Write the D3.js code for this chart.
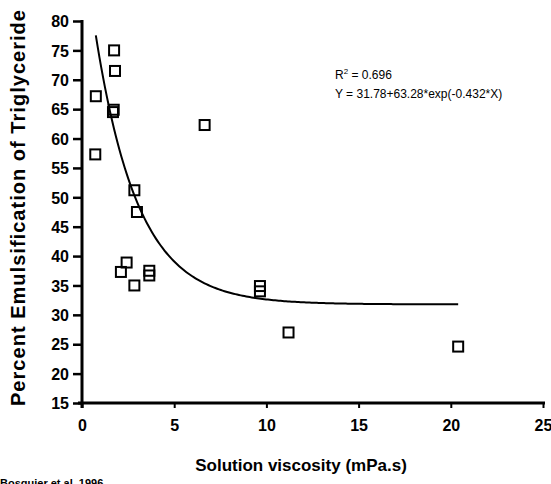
<!DOCTYPE html>
<html>
<head>
<meta charset="utf-8">
<script src="https://cdn.jsdelivr.net/npm/d3@7/dist/d3.min.js"></script>
<style>
  html, body { margin: 0; padding: 0; background: #fff; }
  svg { display: block; }
  text { font-family: "Liberation Sans", Arial, sans-serif; fill: #000; }
</style>
</head>
<body>
<svg id="chart" width="551" height="484"></svg>
<script>
// ---- data ----
const viscosity = [0.72, 0.75, 1.74, 1.79, 1.68, 1.72, 6.65, 2.84, 2.98, 2.11, 2.42, 2.84, 3.65, 3.65, 9.65, 9.65, 11.2, 20.4];
const emulsification = [57.3, 67.2, 75.0, 71.5, 64.5, 64.9, 62.3, 51.2, 47.5, 37.3, 38.9, 35.0, 37.5, 36.7, 34.9, 34.0, 27.0, 24.6];
const xTicks = [0, 5, 10, 15, 20, 25];
const yTicks = [15, 20, 25, 30, 35, 40, 45, 50, 55, 60, 65, 70, 75, 80];
// fitted model shown on chart: Y = a + b*exp(c*X)
const fitA = 31.78, fitB = 63.28, fitC = -0.432;
const fitRange = [0.75, 20.4];
const r2Label = "0.696";
const equationLabel = "Y = 31.78+63.28*exp(-0.432*X)";
const xTitle = "Solution viscosity (mPa.s)";
const yTitle = "Percent Emulsification of Triglyceride";
const sourceLabel = "Bosquier et al. 1996";

const svg = d3.select("#chart");
const x = d3.scaleLinear().domain([0, 25]).range([82, 543]);
const y = d3.scaleLinear().domain([15, 80]).range([403, 21]);

// y axis
const yAxis = svg.append("g").attr("transform", `translate(${x(0)},0)`)
  .call(d3.axisLeft(y).tickValues(yTicks).tickSize(9).tickPadding(4).tickFormat(d3.format("d")));
yAxis.select(".domain").remove();
yAxis.selectAll(".tick line").attr("stroke", "#000").attr("stroke-width", 2.5);
yAxis.selectAll(".tick text").style("font-size", "16px").style("font-weight", "bold").attr("dy", "0.36em");
svg.append("line").attr("x1", x(0)).attr("x2", x(0)).attr("y1", y(80) - 1).attr("y2", y(15) + 5)
  .attr("stroke", "#000").attr("stroke-width", 3);

// x axis
const xAxis = svg.append("g").attr("transform", `translate(0,${y(15)})`)
  .call(d3.axisBottom(x).tickValues(xTicks).tickSize(5).tickPadding(12).tickFormat(d3.format("d")));
xAxis.select(".domain").remove();
xAxis.selectAll(".tick line").attr("stroke", "#000").attr("stroke-width", 2);
xAxis.selectAll(".tick text").style("font-size", "16px").style("font-weight", "bold");
svg.append("line").attr("x1", x(0) - 4).attr("x2", x(25) + 2).attr("y1", y(15)).attr("y2", y(15))
  .attr("stroke", "#000").attr("stroke-width", 3);

// fitted curve
const curvePts = d3.range(0, 201).map(i => {
  const xv = fitRange[0] + (fitRange[1] - fitRange[0]) * i / 200;
  return [xv, fitA + fitB * Math.exp(fitC * xv)];
});
svg.append("path").datum(curvePts)
  .attr("d", d3.line().x(d => x(d[0])).y(d => y(d[1])))
  .attr("fill", "none").attr("stroke", "#000").attr("stroke-width", 2);

// markers
const pts = viscosity.map((v, i) => ({ v, e: emulsification[i] }));
svg.append("g").selectAll("rect").data(pts).join("rect")
  .attr("x", d => x(d.v) - 5).attr("y", d => y(d.e) - 5)
  .attr("width", 10).attr("height", 10)
  .attr("fill", "#fff").attr("fill-opacity", 0).attr("stroke", "#000").attr("stroke-width", 2);

// annotation
const r2 = svg.append("text").attr("x", 335).attr("y", 79).style("font-size", "12px");
r2.append("tspan").text("R");
r2.append("tspan").attr("dy", -5).style("font-size", "8px").text("2");
r2.append("tspan").attr("dy", 5).text(" = " + r2Label);
svg.append("text").attr("x", 335).attr("y", 98).style("font-size", "12px").text(equationLabel);

// titles
svg.append("text").attr("text-anchor", "middle")
  .attr("transform", `translate(25,${208}) rotate(-90)`)
  .attr("textLength", 396).attr("lengthAdjust", "spacing")
  .style("font-size", "20px").style("font-weight", "bold").text(yTitle);
svg.append("text").attr("x", 301).attr("y", 471).attr("text-anchor", "middle")
  .style("font-size", "17px").style("font-weight", "bold").text(xTitle);
svg.append("text").attr("x", 0).attr("y", 487)
  .style("font-size", "11px").style("font-weight", "bold").text(sourceLabel);
</script>
</body>
</html>
